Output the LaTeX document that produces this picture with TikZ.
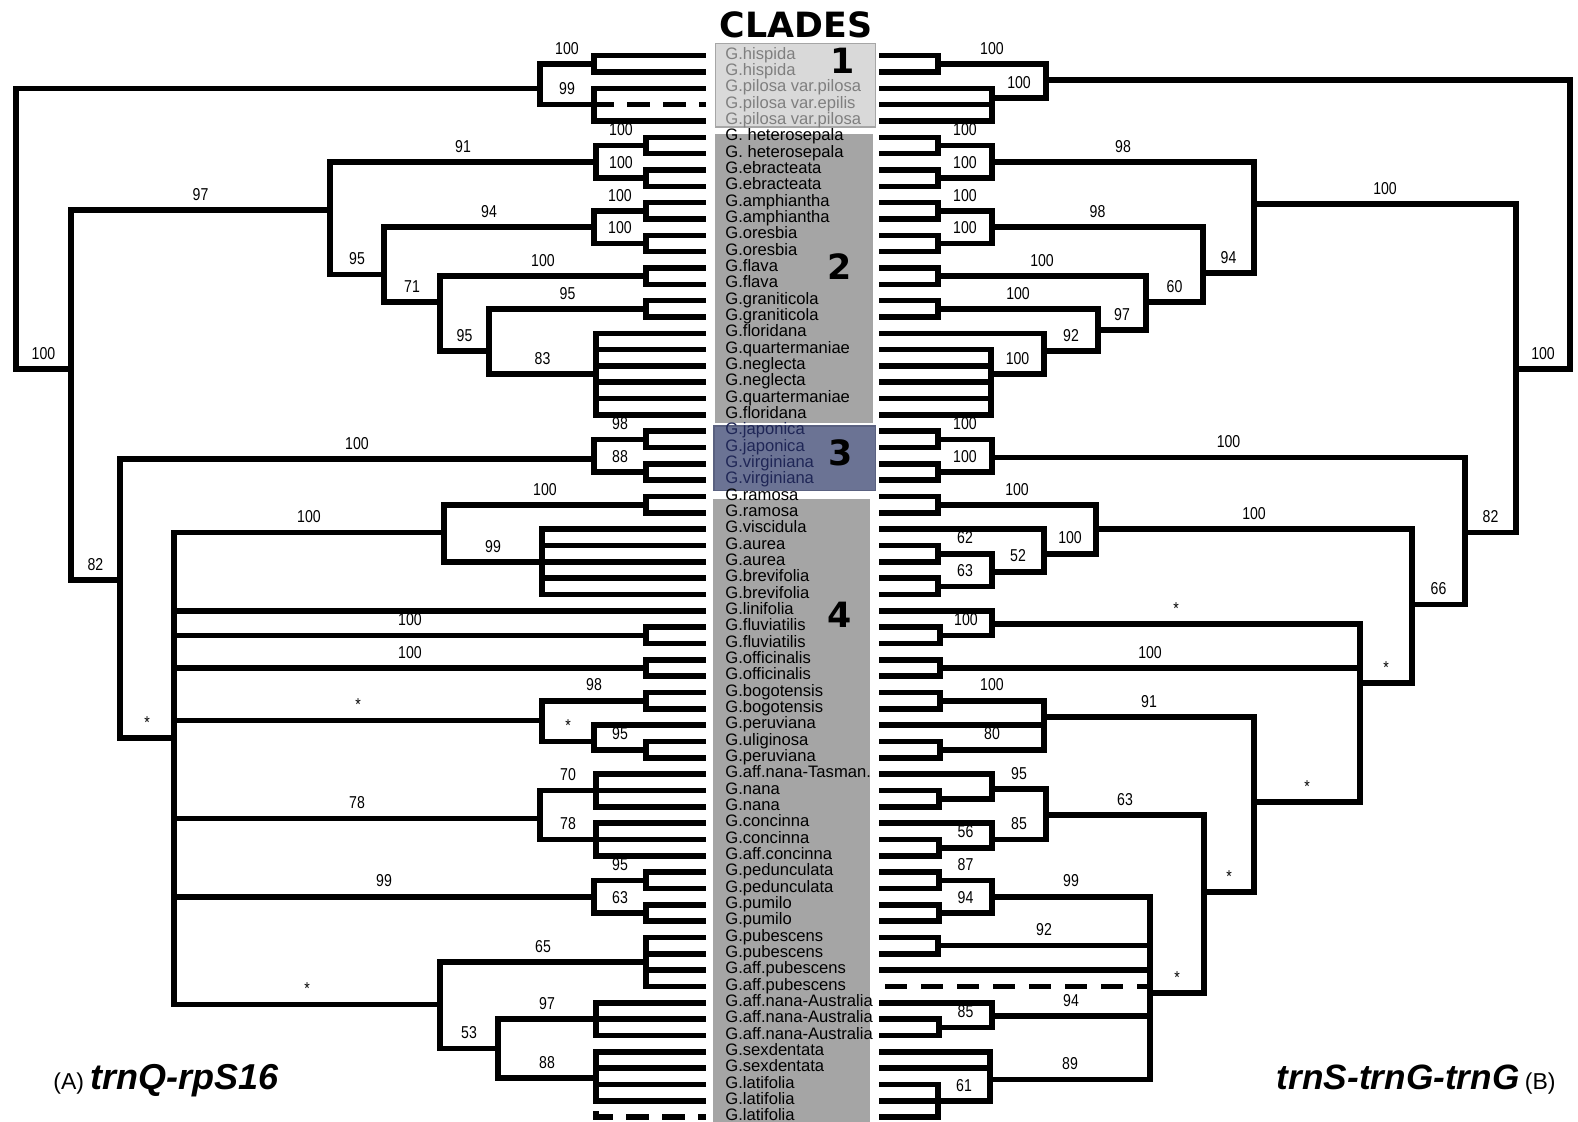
\documentclass[tikz,border=0pt]{standalone}
\usepackage{fontspec}
\setmainfont{Liberation Sans}
\newfontfamily\numfont[FakeStretch=0.82]{Liberation Sans}
\newfontfamily\heavyfont{DejaVu Sans}
\usepackage{tikz}
\usetikzlibrary{positioning}
\definecolor{cladeOneFill}{HTML}{D9D9D9}
\definecolor{cladeOneLine}{HTML}{A6A6A6}
\definecolor{cladeOneText}{HTML}{7F7F7F}
\definecolor{cladeGray}{HTML}{A5A5A5}
\definecolor{cladeThreeFill}{HTML}{6B7394}
\definecolor{cladeThreeLine}{HTML}{5A6180}
\definecolor{cladeThreeText}{HTML}{1F2656}

% one labelled branch, and plain branches to several children
\newcommand{\twig}[3]{\draw[br] (#1) |- node[bs] {#3} (#2);}
\newcommand{\kids}[2]{\foreach \kd in {#2} {\draw[br] (#1) |- (\kd);}}

\begin{document}
\begin{tikzpicture}[
  x=0.5pt, y=-8.165pt,
  br/.style={line width=2.8pt, line cap=rect},
  dbr/.style={br, dash pattern=on 8.5pt off 9.5pt},
  bs/.style={font=\numfont\fontsize{8.6pt}{9pt}\selectfont, inner sep=0pt, pos=0.75, above=3.4pt},
  tx/.style={font=\fontsize{8.3pt}{9pt}\selectfont, inner sep=0pt, anchor=base west},
  num/.style={font=\heavyfont\bfseries\fontsize{17.4pt}{18pt}\selectfont, inner sep=0pt}
]
\fill[white] (0,-2.411) rectangle (1578,66.297);
\useasboundingbox (0,-2.411) rectangle (1578,66.297);

% clade boxes
\filldraw[fill=cladeOneFill, draw=cladeOneLine, line width=0.6pt] (715.7,0.24) rectangle (875.7,5.37);
\fill[cladeGray] (715,5.79) rectangle (872.7,23.47);
\filldraw[fill=cladeThreeFill, draw=cladeThreeLine, line width=0.6pt] (714,23.68) rectangle (875.7,27.64);
\fill[cladeGray] (712.7,28.16) rectangle (870,66.297);

\node[num] (clades) at (796,-0.88) {CLADES};
\node[num] (k1) at (843,1.32) {1};
\node[num] (k2) at (840,13.94) {2};
\node[num] (k3) at (841,25.33) {3};
\node[num] (k4) at (840,35.25) {4};

% taxa
\foreach \t [count=\i] in {G.hispida, G.hispida, G.pilosa var.pilosa, G.pilosa var.epilis, G.pilosa var.pilosa}
  \node[tx, text=cladeOneText] (t\i) at (725,\i+0.22) {\t};
\foreach \t [count=\i from 6] in {G. heterosepala, G. heterosepala, G.ebracteata, G.ebracteata, G.amphiantha, G.amphiantha, G.oresbia, G.oresbia, G.flava, G.flava, G.graniticola, G.graniticola, G.floridana, G.quartermaniae, G.neglecta, G.neglecta, G.quartermaniae, G.floridana}
  \node[tx] (t\i) at (725,\i+0.22) {\t};
\foreach \t [count=\i from 24] in {G.japonica, G.japonica, G.virginiana, G.virginiana}
  \node[tx, text=cladeThreeText] (t\i) at (725,\i+0.22) {\t};
\foreach \t [count=\i from 28] in {G.ramosa, G.ramosa, G.viscidula, G.aurea, G.aurea, G.brevifolia, G.brevifolia, G.linifolia, G.fluviatilis, G.fluviatilis, G.officinalis, G.officinalis, G.bogotensis, G.bogotensis, G.peruviana, G.uliginosa, G.peruviana, G.aff.nana-Tasman., G.nana, G.nana, G.concinna, G.concinna, G.aff.concinna, G.pedunculata, G.pedunculata, G.pumilo, G.pumilo, G.pubescens, G.pubescens, G.aff.pubescens, G.aff.pubescens, G.aff.nana-Australia, G.aff.nana-Australia, G.aff.nana-Australia, G.sexdentata, G.sexdentata, G.latifolia, G.latifolia, G.latifolia}
  \node[tx] (t\i) at (725,\i+0.22) {\t};

% leaf tips
\foreach \i in {1,...,66} {
  \coordinate (L\i) at (703,\i);
  \coordinate (R\i) at (882,\i);
}

% (A) tree nodes
\coordinate (lroot) at (16,3);
\coordinate (lc1) at (540,3);
\coordinate (la) at (594,1.5);
\coordinate (lb) at (594,4);
\coordinate (ln1) at (71,20.2);
\coordinate (lc2) at (330,10.45);
\coordinate (lh) at (596,7.5);
\coordinate (lh1) at (646,6.5);
\coordinate (lh2) at (646,8.5);
\coordinate (lk) at (384,14.4);
\coordinate (lm) at (594,11.5);
\coordinate (lm1) at (646,10.5);
\coordinate (lm2) at (646,12.5);
\coordinate (lp) at (440,16.1);
\coordinate (lf) at (646,14.5);
\coordinate (lq) at (489,19.1);
\coordinate (lg) at (646,16.5);
\coordinate (lr) at (596,20.5);
\coordinate (ln2) at (120,33.1);
\coordinate (lj) at (594,25.7);
\coordinate (lj1) at (646,24.5);
\coordinate (lj2) at (646,26.5);
\coordinate (l4) at (174,42.8);
\coordinate (la4) at (444,30.2);
\coordinate (lr4) at (646,28.5);
\coordinate (lau) at (542,32);
\coordinate (lfl) at (646,36.5);
\coordinate (lof) at (646,38.5);
\coordinate (lbo) at (542,41.7);
\coordinate (lbg) at (646,40.5);
\coordinate (lpv) at (594,43);
\coordinate (lul) at (646,43.5);
\coordinate (lna) at (540,47.7);
\coordinate (ln3) at (596,46);
\coordinate (lco) at (596,49);
\coordinate (lpe) at (594,52.5);
\coordinate (lpd) at (646,51.5);
\coordinate (lpm) at (646,53.5);
\coordinate (lpu) at (440,59.1);
\coordinate (lpb) at (646,56.5);
\coordinate (lsx) at (498,61.8);
\coordinate (lau2) at (596,60);
\coordinate (lla) at (596,63.6);

\twig{lroot}{lc1}{}
\twig{lroot}{ln1}{100}
\twig{lc1}{la}{100}
\twig{lc1}{lb}{99}
\kids{la}{L1,L2}
\kids{lb}{L3,L5}
\draw[dbr] (lb) |- (L4);
\twig{ln1}{lc2}{97}
\twig{ln1}{ln2}{82}
\twig{lc2}{lh}{91}
\twig{lc2}{lk}{95}
\twig{lh}{lh1}{100}
\twig{lh}{lh2}{100}
\kids{lh1}{L6,L7}
\kids{lh2}{L8,L9}
\twig{lk}{lm}{94}
\twig{lk}{lp}{71}
\twig{lm}{lm1}{100}
\twig{lm}{lm2}{100}
\kids{lm1}{L10,L11}
\kids{lm2}{L12,L13}
\twig{lp}{lf}{100}
\twig{lp}{lq}{95}
\kids{lf}{L14,L15}
\twig{lq}{lg}{95}
\twig{lq}{lr}{83}
\kids{lg}{L16,L17}
\kids{lr}{L18,L19,L20,L21,L22,L23}
\twig{ln2}{lj}{100}
\twig{ln2}{l4}{*}
\twig{lj}{lj1}{98}
\twig{lj}{lj2}{88}
\kids{lj1}{L24,L25}
\kids{lj2}{L26,L27}
\twig{l4}{la4}{100}
\kids{l4}{L35}
\twig{l4}{lfl}{100}
\twig{l4}{lof}{100}
\twig{l4}{lbo}{*}
\twig{l4}{lna}{78}
\twig{l4}{lpe}{99}
\twig{l4}{lpu}{*}
\twig{la4}{lr4}{100}
\twig{la4}{lau}{99}
\kids{lr4}{L28,L29}
\kids{lau}{L30,L31,L32,L33,L34}
\kids{lfl}{L36,L37}
\kids{lof}{L38,L39}
\twig{lbo}{lbg}{98}
\twig{lbo}{lpv}{*}
\kids{lbg}{L40,L41}
\kids{lpv}{L42}
\twig{lpv}{lul}{95}
\kids{lul}{L43,L44}
\twig{lna}{ln3}{70}
\twig{lna}{lco}{78}
\kids{ln3}{L45,L46,L47}
\kids{lco}{L48,L49,L50}
\twig{lpe}{lpd}{95}
\twig{lpe}{lpm}{63}
\kids{lpd}{L51,L52}
\kids{lpm}{L53,L54}
\twig{lpu}{lpb}{65}
\twig{lpu}{lsx}{53}
\kids{lpb}{L55,L56,L57,L58}
\twig{lsx}{lau2}{97}
\twig{lsx}{lla}{88}
\kids{lau2}{L59,L60,L61}
\kids{lla}{L62,L63,L64,L65}
\draw[dbr] (lla) |- (L66);

% (B) tree nodes
\coordinate (rroot) at (1570,2.5);
\coordinate (rc1) at (1046,2.5);
\coordinate (ra) at (938,1.5);
\coordinate (rb) at (992,3.6);
\coordinate (rn1) at (1516,20.2);
\coordinate (rc2) at (1254,10.1);
\coordinate (rh) at (992,7.5);
\coordinate (rh1) at (938,6.5);
\coordinate (rh2) at (938,8.5);
\coordinate (rk) at (1203,14.3);
\coordinate (rm) at (992,11.5);
\coordinate (rm1) at (938,10.5);
\coordinate (rm2) at (938,12.5);
\coordinate (rp) at (1146,16.1);
\coordinate (rf) at (938,14.5);
\coordinate (rq) at (1098,17.8);
\coordinate (rg) at (938,16.5);
\coordinate (rs) at (1044,19.1);
\coordinate (rr5) at (991,20.5);
\coordinate (rn2) at (1465,30.2);
\coordinate (rj) at (992,25.6);
\coordinate (rj1) at (938,24.5);
\coordinate (rj2) at (938,26.5);
\coordinate (r66) at (1412,34.6);
\coordinate (rr4) at (1096,30);
\coordinate (rra) at (938,28.5);
\coordinate (rvi) at (1044,31.5);
\coordinate (rau) at (992,32.6);
\coordinate (rau1) at (938,31.5);
\coordinate (rau2) at (938,33.5);
\coordinate (rst) at (1360,39.4);
\coordinate (rli) at (992,35.8);
\coordinate (rfl) at (940,36.5);
\coordinate (rof) at (940,38.5);
\coordinate (rbig) at (1254,46.7);
\coordinate (rbo) at (1044,41.5);
\coordinate (rbg) at (940,40.5);
\coordinate (rul) at (940,43.5);
\coordinate (rco) at (1204,52.2);
\coordinate (rna) at (1046,47.5);
\coordinate (rn3) at (992,45.9);
\coordinate (rnn) at (939,46.5);
\coordinate (rcc) at (992,49);
\coordinate (rcn) at (939,49.5);
\coordinate (rpu) at (1150,58.4);
\coordinate (rpe) at (992,52.5);
\coordinate (rpd) at (939,51.5);
\coordinate (rpm) at (939,53.5);
\coordinate (rpb) at (938,55.5);
\coordinate (rau3) at (992,59.8);
\coordinate (rau4) at (939,60.5);
\coordinate (rla) at (990,63.7);
\coordinate (rlf) at (938,65);

\twig{rroot}{rc1}{}
\twig{rroot}{rn1}{100}
\twig{rc1}{ra}{100}
\twig{rc1}{rb}{100}
\kids{ra}{R1,R2}
\kids{rb}{R3,R4,R5}
\twig{rn1}{rc2}{100}
\twig{rn1}{rn2}{82}
\twig{rc2}{rh}{98}
\twig{rc2}{rk}{94}
\twig{rh}{rh1}{100}
\twig{rh}{rh2}{100}
\kids{rh1}{R6,R7}
\kids{rh2}{R8,R9}
\twig{rk}{rm}{98}
\twig{rk}{rp}{60}
\twig{rm}{rm1}{100}
\twig{rm}{rm2}{100}
\kids{rm1}{R10,R11}
\kids{rm2}{R12,R13}
\twig{rp}{rf}{100}
\twig{rp}{rq}{97}
\kids{rf}{R14,R15}
\twig{rq}{rg}{100}
\twig{rq}{rs}{92}
\kids{rg}{R16,R17}
\kids{rs}{R18}
\twig{rs}{rr5}{100}
\kids{rr5}{R19,R20,R21,R22,R23}
\twig{rn2}{rj}{100}
\twig{rn2}{r66}{66}
\twig{rj}{rj1}{100}
\twig{rj}{rj2}{100}
\kids{rj1}{R24,R25}
\kids{rj2}{R26,R27}
\twig{r66}{rr4}{100}
\twig{r66}{rst}{*}
\twig{rr4}{rra}{100}
\twig{rr4}{rvi}{100}
\kids{rra}{R28,R29}
\kids{rvi}{R30}
\twig{rvi}{rau}{52}
\twig{rau}{rau1}{62}
\twig{rau}{rau2}{63}
\kids{rau1}{R31,R32}
\kids{rau2}{R33,R34}
\twig{rst}{rli}{*}
\twig{rst}{rof}{100}
\twig{rst}{rbig}{*}
\kids{rli}{R35}
\twig{rli}{rfl}{100}
\kids{rfl}{R36,R37}
\kids{rof}{R38,R39}
\twig{rbig}{rbo}{91}
\twig{rbig}{rco}{*}
\twig{rbo}{rbg}{100}
\kids{rbo}{R42}
\twig{rbo}{rul}{80}
\kids{rbg}{R40,R41}
\kids{rul}{R43,R44}
\twig{rco}{rna}{63}
\twig{rco}{rpu}{*}
\twig{rna}{rn3}{95}
\twig{rna}{rcc}{85}
\kids{rn3}{R45,rnn}
\kids{rnn}{R46,R47}
\kids{rcc}{R48}
\twig{rcc}{rcn}{56}
\kids{rcn}{R49,R50}
\twig{rpu}{rpe}{99}
\twig{rpu}{rpb}{92}
\kids{rpu}{R57}
\draw[dbr] (rpu) |- (R58);
\twig{rpu}{rau3}{94}
\twig{rpu}{rla}{89}
\twig{rpe}{rpd}{87}
\twig{rpe}{rpm}{94}
\kids{rpd}{R51,R52}
\kids{rpm}{R53,R54}
\kids{rpb}{R55,R56}
\kids{rau3}{R59}
\twig{rau3}{rau4}{85}
\kids{rau4}{R60,R61}
\kids{rla}{R62,R63}
\twig{rla}{rlf}{61}
\kids{rlf}{R64,R65,R66}

% marker names
\node[anchor=base west, inner sep=0pt] (nameA) at (53,64.28)
  {\fontsize{11.5pt}{12pt}\selectfont (A) {\fontsize{18pt}{20pt}\selectfont\bfseries\itshape trnQ-rpS16}};
\node[anchor=base east, inner sep=0pt] (nameB) at (1556,64.28)
  {{\fontsize{17.6pt}{20pt}\selectfont\bfseries\itshape trnS-trnG-trnG} \fontsize{11.5pt}{12pt}\selectfont (B)};
\end{tikzpicture}
\end{document}
